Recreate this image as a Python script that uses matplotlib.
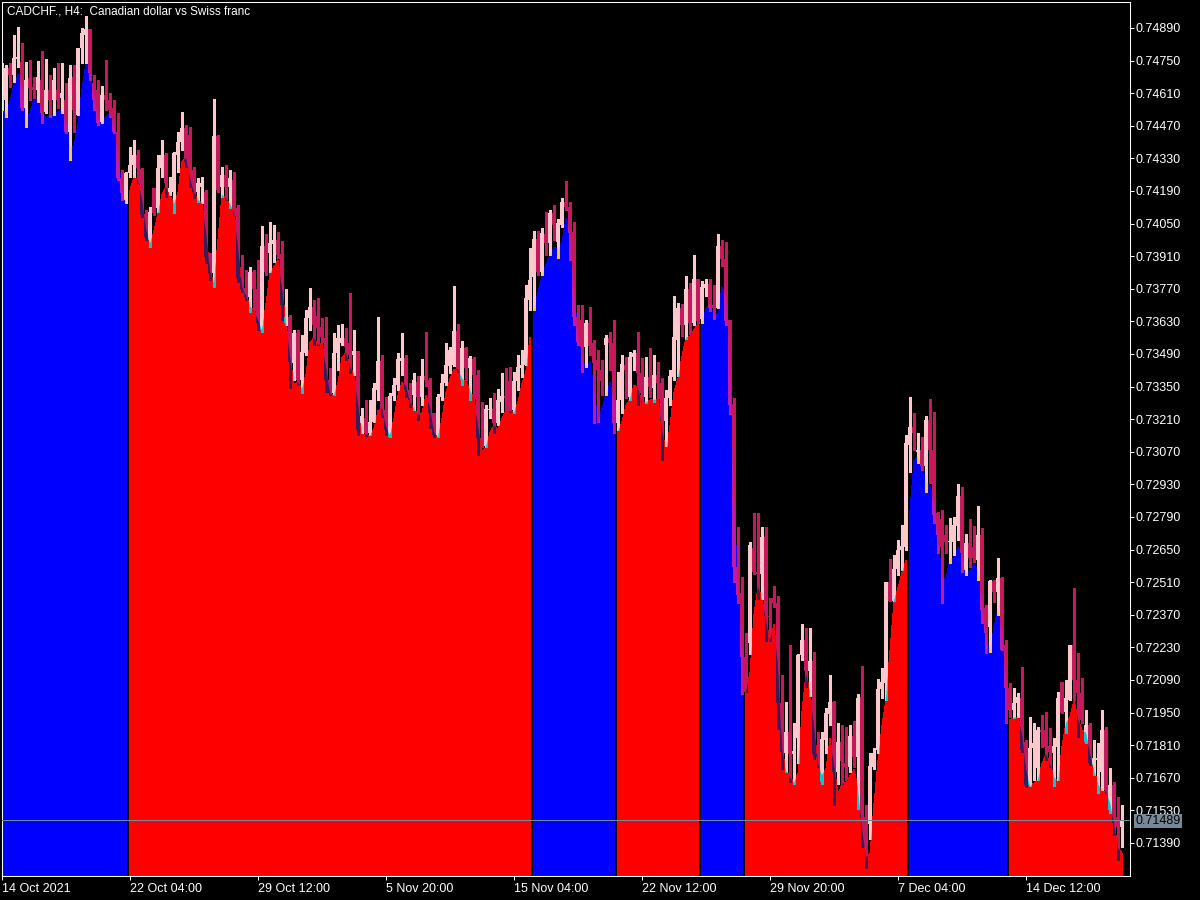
import numpy as np
import matplotlib.pyplot as plt
from matplotlib.collections import LineCollection, PolyCollection
from matplotlib.patches import Polygon
from matplotlib.transforms import blended_transform_factory

plt.rcParams['font.family'] = ['Liberation Sans', 'DejaVu Sans']

# CADCHF H4 bars, 14 Oct 2021 20:00 onwards
opens = [
    0.74636, 0.74581, 0.74718, 0.74688, 0.74757, 0.74744, 0.74546, 0.74675, 0.74636, 0.74624,
    0.74666, 0.74529, 0.74624, 0.74581, 0.74624, 0.74589, 0.74581, 0.74443, 0.74679, 0.74516,
    0.74804, 0.74860, 0.74885, 0.74654, 0.74624, 0.74486, 0.74602, 0.74581, 0.74546, 0.74443,
    0.74246, 0.74151, 0.74267, 0.74301, 0.74344, 0.74284, 0.74087, 0.73979, 0.74203, 0.74117,
    0.74289, 0.74344, 0.74185, 0.74185, 0.74344, 0.74400, 0.74460, 0.74430, 0.74280, 0.74185,
    0.74207, 0.74185, 0.73915, 0.73838, 0.74426, 0.74207, 0.74258, 0.74207, 0.74237, 0.74117,
    0.73820, 0.73773, 0.73735, 0.73842, 0.73769, 0.73593, 0.73954, 0.73923, 0.73962, 0.73979,
    0.73919, 0.73623, 0.73649, 0.73451, 0.73580, 0.73378, 0.73494, 0.73644, 0.73691, 0.73653,
    0.73606, 0.73559, 0.73378, 0.73322, 0.73494, 0.73537, 0.73559, 0.73537, 0.73485, 0.73503,
    0.73193, 0.73215, 0.73151, 0.73198, 0.73335, 0.73460, 0.73249, 0.73133, 0.73309, 0.73357,
    0.73460, 0.73473, 0.73335, 0.73314, 0.73370, 0.73305, 0.73395, 0.73378, 0.73236, 0.73142,
    0.73305, 0.73365, 0.73438, 0.73443, 0.73589, 0.73378, 0.73516, 0.73430, 0.73468, 0.73400,
    0.73129, 0.73095, 0.73249, 0.73254, 0.73193, 0.73284, 0.73309, 0.73374, 0.73249, 0.73374,
    0.73430, 0.73443, 0.73722, 0.73820, 0.73984, 0.73842, 0.74005, 0.73966, 0.74095, 0.73971,
    0.74044, 0.74143, 0.74121, 0.74014, 0.73649, 0.73636, 0.73520, 0.73623, 0.73537, 0.73464,
    0.73421, 0.73528, 0.73559, 0.73537, 0.73193, 0.73292, 0.73443, 0.73305, 0.73477, 0.73494,
    0.73408, 0.73305, 0.73391, 0.73344, 0.73400, 0.73365, 0.73202, 0.73301, 0.73391, 0.73550,
    0.73687, 0.73614, 0.73769, 0.73623, 0.73812, 0.73640, 0.73773, 0.73790, 0.73700, 0.73687,
    0.73954, 0.73898, 0.73636, 0.73275, 0.72575, 0.72463, 0.72188, 0.72249, 0.72657, 0.72553,
    0.72545, 0.72704, 0.72365, 0.72442, 0.72420, 0.71991, 0.71776, 0.71866, 0.71772, 0.71841,
    0.72197, 0.72262, 0.72128, 0.72171, 0.71776, 0.71652, 0.71832, 0.71944, 0.71995, 0.71695,
    0.71823, 0.71733, 0.71716, 0.71849, 0.71759, 0.72017, 0.71501, 0.71471, 0.71716, 0.71789,
    0.72051, 0.72077, 0.72511, 0.72429, 0.72566, 0.72648, 0.72661, 0.73099, 0.73176, 0.73069,
    0.73078, 0.73009, 0.73206, 0.73078, 0.72807, 0.72781, 0.72712, 0.72682, 0.72682, 0.72751,
    0.72880, 0.72562, 0.72678, 0.72661, 0.72605, 0.72712, 0.72399, 0.72317, 0.72515, 0.72468,
    0.72528, 0.72240, 0.72055, 0.71961, 0.71991, 0.72013, 0.71823, 0.71639, 0.71798, 0.71712,
    0.71875, 0.71875, 0.71806, 0.71776, 0.71802, 0.72081, 0.71952, 0.72004, 0.72240, 0.72090,
    0.72034, 0.71823, 0.71897, 0.71725, 0.71746, 0.71695, 0.71875, 0.71531, 0.71639, 0.71501, 0.71459,
]
highs = [
    0.74739, 0.74731, 0.74739, 0.74860, 0.74894, 0.74825, 0.74744, 0.74752, 0.74679, 0.74748,
    0.74791, 0.74757, 0.74688, 0.74718, 0.74739, 0.74739, 0.74654, 0.74731, 0.74731, 0.74804,
    0.74890, 0.74941, 0.74885, 0.74688, 0.74666, 0.74641, 0.74752, 0.74611, 0.74581, 0.74525,
    0.74280, 0.74271, 0.74379, 0.74409, 0.74366, 0.74289, 0.74108, 0.74121, 0.74203, 0.74344,
    0.74409, 0.74353, 0.74250, 0.74357, 0.74443, 0.74529, 0.74473, 0.74465, 0.74293, 0.74246,
    0.74250, 0.74194, 0.73923, 0.74585, 0.74430, 0.74293, 0.74301, 0.74280, 0.74271, 0.74130,
    0.73915, 0.73850, 0.73863, 0.73850, 0.73893, 0.74039, 0.74005, 0.74057, 0.74044, 0.74014,
    0.73975, 0.73769, 0.73657, 0.73593, 0.73593, 0.73571, 0.73679, 0.73773, 0.73722, 0.73730,
    0.73644, 0.73649, 0.73430, 0.73580, 0.73614, 0.73618, 0.73601, 0.73752, 0.73593, 0.73503,
    0.73258, 0.73292, 0.73292, 0.73365, 0.73649, 0.73485, 0.73305, 0.73322, 0.73387, 0.73494,
    0.73580, 0.73485, 0.73365, 0.73408, 0.73395, 0.73468, 0.73584, 0.73387, 0.73236, 0.73318,
    0.73404, 0.73537, 0.73520, 0.73782, 0.73618, 0.73546, 0.73520, 0.73481, 0.73477, 0.73421,
    0.73284, 0.73271, 0.73301, 0.73322, 0.73339, 0.73408, 0.73430, 0.73434, 0.73412, 0.73485,
    0.73507, 0.73786, 0.73945, 0.74018, 0.74018, 0.74031, 0.74100, 0.74108, 0.74130, 0.74070,
    0.74160, 0.74233, 0.74143, 0.74057, 0.73700, 0.73700, 0.73636, 0.73691, 0.73550, 0.73507,
    0.73464, 0.73571, 0.73584, 0.73636, 0.73412, 0.73485, 0.73477, 0.73498, 0.73507, 0.73584,
    0.73473, 0.73477, 0.73516, 0.73485, 0.73455, 0.73387, 0.73335, 0.73421, 0.73739, 0.73709,
    0.73705, 0.73825, 0.73795, 0.73915, 0.73812, 0.73803, 0.73812, 0.73812, 0.73786, 0.74005,
    0.73979, 0.73971, 0.73636, 0.73301, 0.72747, 0.72532, 0.72292, 0.72682, 0.72807, 0.72807,
    0.72747, 0.72747, 0.72442, 0.72494, 0.72451, 0.72111, 0.71995, 0.72240, 0.71905, 0.72201,
    0.72330, 0.72313, 0.72313, 0.72210, 0.71866, 0.71866, 0.71970, 0.72111, 0.72000, 0.71905,
    0.71897, 0.71888, 0.71897, 0.71914, 0.72030, 0.72150, 0.71553, 0.71777, 0.71798, 0.72094,
    0.72141, 0.72511, 0.72610, 0.72627, 0.72691, 0.72755, 0.73142, 0.73305, 0.73236, 0.73151,
    0.73133, 0.73223, 0.73297, 0.73241, 0.72811, 0.72820, 0.72755, 0.72786, 0.72790, 0.72932,
    0.72919, 0.72717, 0.72781, 0.72751, 0.72837, 0.72742, 0.72412, 0.72519, 0.72519, 0.72614,
    0.72532, 0.72262, 0.72077, 0.72055, 0.72034, 0.72146, 0.71832, 0.71931, 0.71905, 0.71888,
    0.71940, 0.71952, 0.71884, 0.71841, 0.72038, 0.72081, 0.72090, 0.72240, 0.72485, 0.72206,
    0.72098, 0.71961, 0.71905, 0.71832, 0.71819, 0.71961, 0.71888, 0.71712, 0.71652, 0.71587, 0.71553,
]
lows = [
    0.74538, 0.74508, 0.74636, 0.74658, 0.74722, 0.74538, 0.74465, 0.74581, 0.74589, 0.74572,
    0.74482, 0.74525, 0.74508, 0.74516, 0.74546, 0.74525, 0.74439, 0.74323, 0.74443, 0.74516,
    0.74739, 0.74739, 0.74666, 0.74538, 0.74473, 0.74482, 0.74538, 0.74508, 0.74439, 0.74237,
    0.74151, 0.74138, 0.74250, 0.74250, 0.74224, 0.74078, 0.73979, 0.73949, 0.74087, 0.74100,
    0.74250, 0.74164, 0.74173, 0.74095, 0.74271, 0.74366, 0.74293, 0.74207, 0.74160, 0.74143,
    0.74138, 0.73881, 0.73808, 0.73777, 0.74185, 0.74164, 0.74151, 0.74117, 0.74087, 0.73799,
    0.73756, 0.73722, 0.73670, 0.73679, 0.73593, 0.73584, 0.73829, 0.73842, 0.73885, 0.73902,
    0.73636, 0.73614, 0.73344, 0.73378, 0.73357, 0.73322, 0.73485, 0.73593, 0.73528, 0.73528,
    0.73541, 0.73326, 0.73314, 0.73314, 0.73421, 0.73528, 0.73464, 0.73408, 0.73400, 0.73142,
    0.73151, 0.73137, 0.73142, 0.73198, 0.73292, 0.73219, 0.73142, 0.73133, 0.73292, 0.73335,
    0.73400, 0.73305, 0.73262, 0.73249, 0.73206, 0.73271, 0.73352, 0.73172, 0.73133, 0.73133,
    0.73292, 0.73357, 0.73408, 0.73438, 0.73412, 0.73357, 0.73378, 0.73292, 0.73301, 0.73056,
    0.73090, 0.73090, 0.73215, 0.73151, 0.73185, 0.73241, 0.73249, 0.73241, 0.73236, 0.73335,
    0.73391, 0.73443, 0.73679, 0.73679, 0.73829, 0.73829, 0.73915, 0.73915, 0.73979, 0.73902,
    0.74035, 0.74108, 0.73893, 0.73614, 0.73528, 0.73412, 0.73434, 0.73485, 0.73193, 0.73198,
    0.73314, 0.73314, 0.73421, 0.73151, 0.73163, 0.73236, 0.73301, 0.73292, 0.73421, 0.73271,
    0.73284, 0.73279, 0.73305, 0.73284, 0.73301, 0.73035, 0.73095, 0.73271, 0.73378, 0.73395,
    0.73567, 0.73554, 0.73576, 0.73614, 0.73623, 0.73623, 0.73739, 0.73674, 0.73640, 0.73687,
    0.73868, 0.73614, 0.73232, 0.72511, 0.72420, 0.72030, 0.72039, 0.72201, 0.72545, 0.72438,
    0.72438, 0.72257, 0.72257, 0.72403, 0.71879, 0.71708, 0.71695, 0.71652, 0.71643, 0.71733,
    0.72176, 0.72060, 0.72021, 0.71750, 0.71716, 0.71643, 0.71777, 0.71897, 0.71553, 0.71643,
    0.71643, 0.71660, 0.71695, 0.71716, 0.71536, 0.71373, 0.71282, 0.71407, 0.71708, 0.71777,
    0.72013, 0.72004, 0.72429, 0.72429, 0.72541, 0.72562, 0.72648, 0.72983, 0.73078, 0.73022,
    0.72992, 0.72897, 0.72936, 0.72764, 0.72635, 0.72420, 0.72635, 0.72592, 0.72627, 0.72691,
    0.72554, 0.72541, 0.72575, 0.72597, 0.72519, 0.72335, 0.72206, 0.72210, 0.72425, 0.72369,
    0.72219, 0.71905, 0.71931, 0.71927, 0.71931, 0.71781, 0.71630, 0.71634, 0.71660, 0.71660,
    0.71802, 0.71746, 0.71716, 0.71634, 0.71660, 0.71948, 0.71862, 0.72004, 0.72004, 0.71845,
    0.71905, 0.71819, 0.71725, 0.71682, 0.71605, 0.71617, 0.71605, 0.71519, 0.71424, 0.71317, 0.71373,
]
closes = [
    0.74701, 0.74718, 0.74688, 0.74761, 0.74765, 0.74546, 0.74666, 0.74632, 0.74624, 0.74679,
    0.74525, 0.74624, 0.74581, 0.74666, 0.74581, 0.74611, 0.74443, 0.74675, 0.74538, 0.74804,
    0.74868, 0.74885, 0.74697, 0.74581, 0.74482, 0.74602, 0.74581, 0.74538, 0.74443, 0.74246,
    0.74181, 0.74267, 0.74301, 0.74344, 0.74289, 0.74087, 0.73992, 0.74100, 0.74095, 0.74289,
    0.74344, 0.74224, 0.74203, 0.74353, 0.74400, 0.74460, 0.74314, 0.74289, 0.74185, 0.74224,
    0.74224, 0.73906, 0.73838, 0.74426, 0.74194, 0.74258, 0.74207, 0.74246, 0.74117, 0.73816,
    0.73769, 0.73735, 0.73842, 0.73769, 0.73623, 0.73954, 0.73842, 0.73966, 0.73979, 0.73915,
    0.73700, 0.73649, 0.73455, 0.73580, 0.73378, 0.73498, 0.73644, 0.73691, 0.73614, 0.73601,
    0.73563, 0.73378, 0.73322, 0.73494, 0.73559, 0.73559, 0.73520, 0.73485, 0.73503, 0.73163,
    0.73223, 0.73151, 0.73198, 0.73344, 0.73460, 0.73249, 0.73163, 0.73309, 0.73357, 0.73468,
    0.73473, 0.73335, 0.73292, 0.73378, 0.73305, 0.73395, 0.73378, 0.73236, 0.73142, 0.73305,
    0.73365, 0.73443, 0.73507, 0.73589, 0.73421, 0.73516, 0.73430, 0.73473, 0.73400, 0.73129,
    0.73120, 0.73254, 0.73254, 0.73193, 0.73292, 0.73309, 0.73301, 0.73249, 0.73374, 0.73434,
    0.73443, 0.73730, 0.73808, 0.73984, 0.73842, 0.74009, 0.73966, 0.74095, 0.74044, 0.74052,
    0.74143, 0.74121, 0.74009, 0.73649, 0.73541, 0.73520, 0.73623, 0.73524, 0.73451, 0.73421,
    0.73374, 0.73559, 0.73537, 0.73193, 0.73292, 0.73447, 0.73421, 0.73477, 0.73494, 0.73408,
    0.73322, 0.73391, 0.73348, 0.73400, 0.73365, 0.73202, 0.73301, 0.73395, 0.73563, 0.73687,
    0.73614, 0.73769, 0.73623, 0.73812, 0.73632, 0.73778, 0.73790, 0.73687, 0.73687, 0.73954,
    0.73898, 0.73632, 0.73271, 0.72575, 0.72455, 0.72188, 0.72039, 0.72669, 0.72553, 0.72545,
    0.72704, 0.72365, 0.72361, 0.72420, 0.71991, 0.71781, 0.71866, 0.71772, 0.71785, 0.72197,
    0.72262, 0.72128, 0.72171, 0.71772, 0.71759, 0.71836, 0.71948, 0.71995, 0.71695, 0.71823,
    0.71742, 0.71716, 0.71849, 0.71759, 0.72013, 0.71497, 0.71373, 0.71720, 0.71777, 0.72051,
    0.72081, 0.72511, 0.72429, 0.72566, 0.72648, 0.72665, 0.73107, 0.73176, 0.73151, 0.73078,
    0.73009, 0.73206, 0.73078, 0.72798, 0.72712, 0.72661, 0.72682, 0.72687, 0.72755, 0.72880,
    0.72635, 0.72678, 0.72614, 0.72614, 0.72712, 0.72390, 0.72292, 0.72515, 0.72468, 0.72528,
    0.72219, 0.72055, 0.71961, 0.71991, 0.72017, 0.71789, 0.71639, 0.71798, 0.71819, 0.71875,
    0.71866, 0.71802, 0.71781, 0.71806, 0.72013, 0.71948, 0.72013, 0.72240, 0.72090, 0.72034,
    0.71918, 0.71897, 0.71733, 0.71755, 0.71755, 0.71875, 0.71617, 0.71639, 0.71476, 0.71459, 0.71489,
]

# trend segments of the indicator (first bar index of each run)
seg_bounds = [0, 32, 133, 154, 175, 186, 227, 252, 281]
seg_colors = ['#0000FF', '#FF0000', '#0000FF', '#FF0000',
              '#0000FF', '#FF0000', '#0000FF', '#FF0000']

tick_bars = [0, 32, 64, 96, 128, 160, 192, 224, 256]
tick_labels = ['14 Oct 2021', '22 Oct 04:00', '29 Oct 12:00', '5 Nov 20:00',
               '15 Nov 04:00', '22 Nov 12:00', '29 Nov 20:00', '7 Dec 04:00',
               '14 Dec 12:00']
price_ticks = [0.71390 + 0.0014 * k for k in range(26)]
last_price = 0.71489
title = 'CADCHF., H4:  Canadian dollar vs Swiss franc'

bull = '#FFC8CC'
bear = '#C41A5C'

O = np.array(opens)
H = np.array(highs)
L = np.array(lows)
C = np.array(closes)
n = len(C)

# indicator line: 2-bar mean of the lows
area = L.copy()
area[1:] = (L[1:] + L[:-1]) / 2

ymin, ymax = 0.71248, 0.750014
px = (ymax - ymin) / 874.0
half_body = 0.42


def xor_hex(a, b):
    a = int(a[1:], 16)
    b = int(b[1:], 16)
    return '#%06X' % (a ^ b)


def candles(ax, idx, up, dn, z, clip=None):
    wicks, wcols, bodies, bcols = [], [], [], []
    for i in idx:
        col = up if C[i] >= O[i] else dn
        wicks.append([(i, L[i]), (i, H[i])])
        wcols.append(col)
        lo, hi = min(O[i], C[i]), max(O[i], C[i])
        if hi - lo < px:
            mid = (hi + lo) / 2
            lo, hi = mid - px / 2, mid + px / 2
        bodies.append([(i - half_body, lo), (i + half_body, lo),
                       (i + half_body, hi), (i - half_body, hi)])
        bcols.append(col)
    lc = LineCollection(wicks, colors=wcols, linewidths=0.8, antialiased=False, zorder=z)
    pc = PolyCollection(bodies, facecolors=bcols, edgecolors='none', antialiased=False, zorder=z)
    ax.add_collection(lc)
    ax.add_collection(pc)
    if clip is not None:
        lc.set_clip_path(clip)
        pc.set_clip_path(clip)


fig = plt.figure(figsize=(12, 9), dpi=100, facecolor='black')
ax = fig.add_axes([2 / 1200, 24 / 900, 1128 / 1200, 874 / 900])
ax.set_facecolor('black')
ax.set_xlim(0, 282)
ax.set_ylim(ymin, ymax)

# filled indicator segments with a small black gap between runs
gap = 0.35
patches = []
for k in range(len(seg_colors)):
    a, b = seg_bounds[k], seg_bounds[k + 1]
    x0 = a - 0.5 + gap if a > 0 else -1
    x1 = b - 0.5 - gap if b < n else n - 0.8
    xs = [x0] + list(range(a, b)) + [x1]
    ys = [area[a]] + list(area[a:b]) + [area[b - 1]]
    verts = [(x0, ymin - 0.001)] + list(zip(xs, ys)) + [(x1, ymin - 0.001)]
    poly = Polygon(verts, closed=True, facecolor=seg_colors[k], edgecolor='none',
                   antialiased=False, zorder=1)
    ax.add_patch(poly)
    patches.append(poly)

candles(ax, range(n), bull, bear, 2)

# candle parts lying on the fill are drawn in xor colours
for k in range(len(seg_colors)):
    a, b = seg_bounds[k], seg_bounds[k + 1]
    idx = range(max(a - 1, 0), min(b + 1, n))
    candles(ax, idx, xor_hex(bull, seg_colors[k]), xor_hex(bear, seg_colors[k]), 3,
            clip=patches[k])

ax.axhline(last_price, color='#778899', lw=0.75, zorder=4)

for s in ax.spines.values():
    s.set_color('white')
    s.set_linewidth(0.75)

ax.yaxis.tick_right()
ax.set_yticks(price_ticks)
ax.set_yticklabels(['%.5f' % v for v in price_ticks])
ax.set_xticks(tick_bars)
ax.set_xticklabels(tick_labels)
for lbl in ax.get_xticklabels():
    lbl.set_horizontalalignment('left')
ax.tick_params(axis='y', direction='out', length=3, width=0.75, colors='white',
               pad=1, labelsize=9)
ax.tick_params(axis='x', direction='out', length=3, width=0.75, colors='white',
               pad=2, labelsize=9)

tr = blended_transform_factory(ax.transAxes, ax.transData)
ax.text(1 + 5 / 1128, last_price - 1.0 * px, '%.5f' % last_price, transform=tr, ha='left',
        va='center', fontsize=9, color='black', clip_on=False, zorder=10,
        bbox=dict(boxstyle='square,pad=0.1', fc='#778899', ec='none'))

fig.text(7 / 1200, 1 - 11 / 900, title, color='white', fontsize=8.5,
         ha='left', va='center')

fig.savefig('out.png', dpi=100, facecolor='black')
